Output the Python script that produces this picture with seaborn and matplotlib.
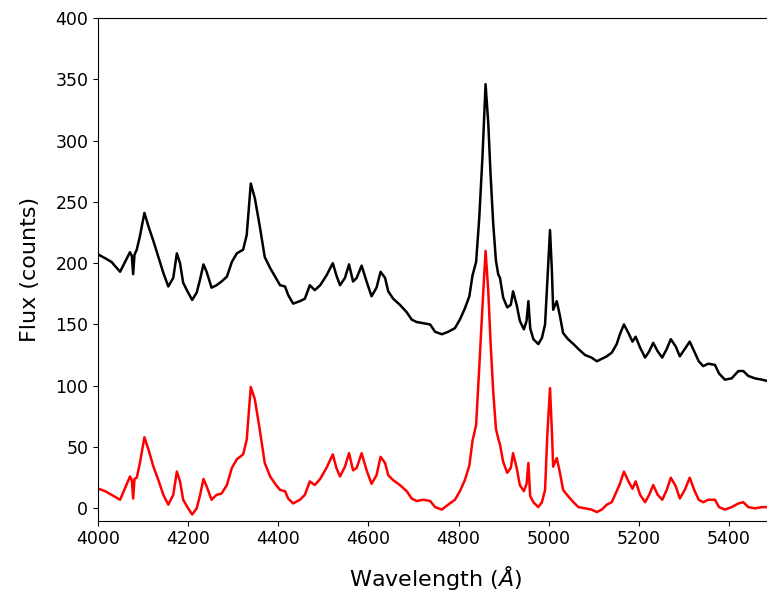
import numpy as np
import pandas as pd
import matplotlib
matplotlib.use("Agg")
import matplotlib.pyplot as plt
import seaborn as sns

# wavelength grid (Angstrom)
wavelength = [
    4001, 4016, 4030, 4049, 4064, 4071, 4075, 4078, 4081, 4086,
    4093, 4103, 4112, 4123, 4134, 4145, 4156, 4167, 4175, 4182,
    4189, 4200, 4209, 4219, 4226, 4234, 4241, 4252, 4263, 4274,
    4286, 4297, 4308, 4322, 4330, 4339, 4348, 4359, 4370, 4382,
    4393, 4404, 4415, 4422, 4433, 4448, 4459, 4470, 4481, 4493,
    4507, 4521, 4529, 4537, 4548, 4557, 4566, 4574, 4585, 4596,
    4607, 4618, 4627, 4637, 4644, 4655, 4670, 4685, 4696, 4707,
    4722, 4737, 4748, 4763, 4777, 4792, 4803, 4814, 4824, 4831,
    4839, 4846, 4853, 4860, 4866, 4871, 4877, 4883, 4888, 4892,
    4899, 4908, 4916, 4921, 4929, 4936, 4945, 4951, 4955, 4959,
    4966, 4977, 4985, 4992, 4997, 5003, 5007, 5010, 5018, 5025,
    5032, 5043, 5055, 5066, 5081, 5095, 5107, 5118, 5129, 5140,
    5151, 5158, 5167, 5177, 5186, 5193, 5203, 5214, 5223, 5232,
    5242, 5252, 5262, 5271, 5282, 5291, 5302, 5313, 5323, 5333,
    5343, 5354, 5369, 5378, 5391, 5406, 5421, 5432, 5443, 5458,
    5473, 5484, 5500,
]

# observed flux (black)
flux = [
    207, 204, 201, 193, 204, 209, 206, 191, 207, 211,
    222, 241, 230, 218, 205, 192, 181, 188, 208, 200,
    184, 176, 170, 176, 186, 199, 193, 180, 182, 185,
    189, 201, 208, 211, 223, 265, 253, 230, 205, 196,
    189, 182, 181, 174, 167, 169, 171, 182, 178, 182,
    190, 200, 190, 182, 188, 199, 185, 188, 198, 185,
    173, 180, 193, 188, 177, 171, 166, 160, 154, 152,
    151, 150, 144, 142, 144, 147, 154, 163, 173, 190,
    201, 237, 286, 346, 314, 273, 232, 202, 191, 188,
    172, 164, 166, 177, 166, 153, 146, 153, 169, 147,
    138, 134, 139, 150, 185, 227, 195, 162, 169, 157,
    143, 138, 134, 130, 125, 123, 120, 122, 124, 127,
    134, 142, 150, 143, 136, 140, 131, 123, 128, 135,
    128, 123, 130, 138, 132, 124, 130, 136, 128, 120,
    116, 118, 117, 110, 105, 106, 112, 112, 108, 106,
    105, 104, 104,
]

# continuum-subtracted flux (red)
flux_sub = [
    16, 14, 11, 7, 20, 26, 23, 8, 24, 25,
    37, 58, 48, 34, 23, 11, 3, 11, 30, 22,
    7, 0, -5, 0, 10, 24, 18, 7, 11, 12,
    19, 33, 40, 44, 56, 99, 89, 64, 37, 26,
    20, 15, 14, 8, 4, 7, 11, 22, 19, 24,
    33, 44, 33, 26, 34, 45, 31, 33, 45, 31,
    20, 27, 42, 37, 27, 23, 19, 14, 8, 6,
    7, 6, 1, -1, 3, 7, 14, 23, 35, 55,
    68, 115, 164, 210, 177, 136, 95, 65, 57, 52,
    38, 29, 33, 45, 33, 19, 14, 20, 37, 10,
    5, 1, 5, 15, 60, 98, 64, 34, 41, 29,
    15, 10, 5, 1, 0, -1, -3, -1, 3, 5,
    14, 20, 30, 22, 16, 22, 11, 5, 11, 19,
    11, 7, 15, 25, 18, 8, 15, 25, 15, 7,
    5, 7, 7, 1, -1, 1, 4, 5, 1, 0,
    1, 1, 1,
]

df = pd.DataFrame({"wavelength": wavelength, "flux": flux, "flux_sub": flux_sub})

fig = plt.figure(figsize=(7.67, 5.93), dpi=100)
# axes runs a bit past the right edge, as in the reference crop
ax = fig.add_axes([98 / 767, 72.4 / 593, 676 / 767, 502.6 / 593])

sns.lineplot(data=df, x="wavelength", y="flux", color="black", lw=1.8,
             estimator=None, ax=ax)
sns.lineplot(data=df, x="wavelength", y="flux_sub", color="red", lw=1.8,
             estimator=None, ax=ax)

ax.set_xlim(4000, 5500)
ax.set_ylim(-10, 400)
ax.set_xticks(np.arange(4000, 5600, 200))
ax.set_yticks(np.arange(0, 450, 50))
ax.tick_params(labelsize=12.5)
ax.set_xlabel(r"Wavelength ($\AA$)", fontsize=16, labelpad=11)
ax.set_ylabel("Flux (counts)", fontsize=16, labelpad=11)

fig.savefig("out.png", dpi=100)
